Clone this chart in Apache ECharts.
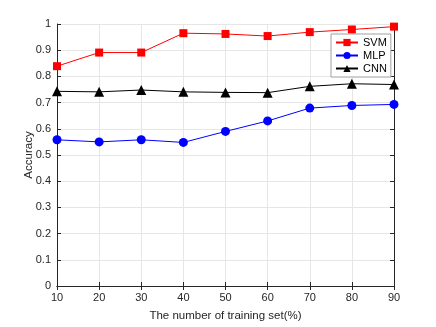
<!DOCTYPE html>
<html>
<head>
<meta charset="utf-8">
<script src="https://cdn.jsdelivr.net/npm/echarts@6/dist/echarts.min.js"></script>
<style>
    html, body { margin: 0; padding: 0; background: #fff; }
    #chart { width: 436px; height: 327px; }
</style>
</head>
<body>
<div id="chart"></div>
<script>
// training set percentages
const trainPct = [10, 20, 30, 40, 50, 60, 70, 80, 90]
const svmAcc = [0.839, 0.891, 0.891, 0.965, 0.962, 0.954, 0.969, 0.979, 0.990]
const mlpAcc = [0.558, 0.550, 0.558, 0.548, 0.590, 0.630, 0.679, 0.689, 0.693]
const cnnAcc = [0.743, 0.741, 0.748, 0.741, 0.739, 0.738, 0.762, 0.772, 0.769]

const axisColor = '#262626'
const font = 'Liberation Sans, Arial, sans-serif'

const pairs = vals => trainPct.map((x, i) => [x, vals[i]])

const chart = echarts.init(document.getElementById('chart'))

const boxAxis = {
    axisLine: { show: true, lineStyle: { color: axisColor, width: 1 } },
    axisTick: { show: true, inside: true, length: 4, lineStyle: { color: axisColor } },
    axisLabel: { show: false },
    splitLine: { show: false }
}

chart.setOption({
    animation: false,
    textStyle: { fontFamily: font },
    grid: { left: 57, right: 42, top: 24, bottom: 37 },
    legend: {
        orient: 'vertical',
        left: 331,
        top: 34,
        itemWidth: 22,
        itemHeight: 9,
        itemGap: 2,
        padding: [3, 4, 3, 4],
        borderColor: '#a0a0a0',
        borderWidth: 1,
        backgroundColor: '#fff',
        textStyle: { fontSize: 11, color: '#000', fontFamily: font },
        data: ['SVM', 'MLP', 'CNN']
    },
    xAxis: [{
        type: 'value',
        min: 10,
        max: 90,
        interval: 10,
        name: 'The number of training set(%)',
        nameLocation: 'middle',
        nameMoveOverlap: false,
        nameGap: 24,
        nameTextStyle: { fontSize: 11.5, color: axisColor },
        axisLine: { show: true, lineStyle: { color: axisColor } },
        axisTick: { show: true, inside: true, length: 4, lineStyle: { color: axisColor } },
        axisLabel: { fontSize: 11, color: axisColor, margin: 6 },
        splitLine: { show: true, lineStyle: { color: '#e6e6e6' } }
    }, Object.assign({
        type: 'value', position: 'top', min: 10, max: 90, interval: 10
    }, boxAxis)],
    yAxis: [{
        type: 'value',
        min: 0,
        max: 1,
        interval: 0.1,
        name: 'Accuracy',
        nameLocation: 'middle',
        nameMoveOverlap: false,
        nameGap: 22,
        nameTextStyle: { fontSize: 11.5, color: axisColor },
        axisLine: { show: true, lineStyle: { color: axisColor } },
        axisTick: { show: true, inside: true, length: 4, lineStyle: { color: axisColor } },
        axisLabel: {
            fontSize: 11, color: axisColor, margin: 6,
            formatter: v => (v === 0 || v === 1) ? String(v) : v.toFixed(1)
        },
        splitLine: { show: true, lineStyle: { color: '#e6e6e6' } }
    }, Object.assign({
        type: 'value', position: 'right', min: 0, max: 1, interval: 0.1
    }, boxAxis)],
    series: [{
        name: 'SVM',
        type: 'line',
        data: pairs(svmAcc),
        symbol: 'rect',
        symbolSize: 8,
        color: '#ff0000',
        lineStyle: { width: 1, color: '#ff0000' },
        itemStyle: { color: '#ff0000' }
    }, {
        name: 'MLP',
        type: 'line',
        data: pairs(mlpAcc),
        symbol: 'circle',
        symbolSize: 9,
        color: '#0000ff',
        lineStyle: { width: 1, color: '#0000ff' },
        itemStyle: { color: '#0000ff' }
    }, {
        name: 'CNN',
        type: 'line',
        data: pairs(cnnAcc),
        symbol: 'triangle',
        symbolSize: 10,
        color: '#000000',
        lineStyle: { width: 1, color: '#000000' },
        itemStyle: { color: '#000000' }
    }]
})
</script>
</body>
</html>
